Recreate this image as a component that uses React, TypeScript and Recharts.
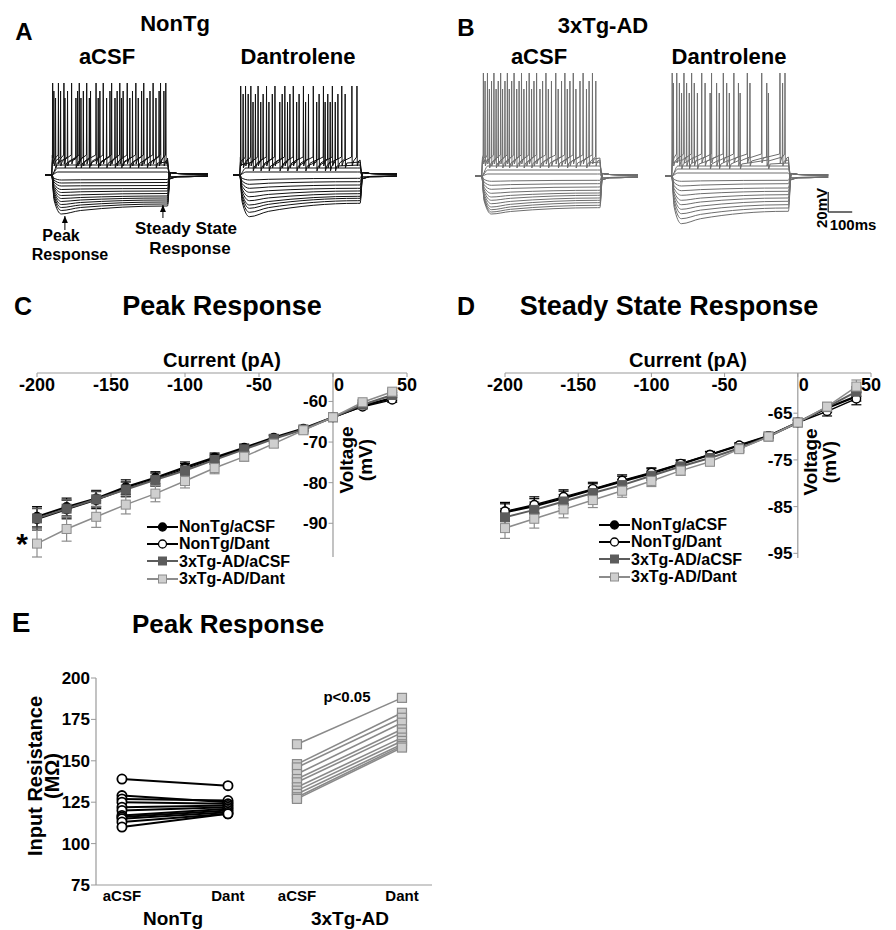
import React from 'react';
import {
  LineChart,
  ComposedChart,
  Line,
  XAxis,
  YAxis,
  ReferenceLine,
  ReferenceDot,
  ErrorBar,
  Legend,
} from 'recharts';

const FONT = '"Liberation Sans", Arial, Helvetica, sans-serif';

// ================= Panels A & B : membrane voltage traces (mV vs ms) =================
const REST_MV = -65;
// [stimulus onset, stimulus offset, end of sweep] in ms
const A_ACSF_TIMING = [28, 511, 680];
const A_DANT_TIMING = [28, 527, 680];
const B_ACSF_TIMING = [28, 521, 680];
const B_DANT_TIMING = [28, 514, 680];

// hyperpolarising sweeps: sag peak, value ~120 ms after onset, steady state at end of step
const A_ACSF_PEAK = [-70, -73, -76, -79.5, -82.5, -85.5, -88.5, -91.5, -94.5, -97.5, -100.5, -104];
const A_ACSF_MID = [-69.8, -72.8, -75.8, -79, -81.8, -84.8, -87.5, -90, -92.5, -95, -97.5, -100.5];
const A_ACSF_STEADY = [-69.5, -72.5, -75.5, -78.5, -81, -83.5, -86, -88, -90, -92, -94, -96];
const A_DANT_PEAK = [-70, -74.3, -78.3, -82.3, -86.7, -90.7, -95, -98.3, -102.3, -106.7];
const A_DANT_MID = [-69.3, -73.2, -77, -80.7, -84.4, -87.9, -91.5, -94.3, -97.6, -101.3];
const A_DANT_STEADY = [-68.3, -71.7, -75, -78.3, -81, -83.7, -86.3, -88.3, -90.7, -93.3];
const B_ACSF_PEAK = [-70.3, -74.3, -78.3, -82.3, -86, -89.3, -92.7, -96, -98.7, -101, -103];
const B_ACSF_MID = [-69.9, -73.6, -77.4, -81.1, -84.4, -87.3, -90.4, -93.3, -95.9, -98.3, -100.5];
const B_ACSF_STEADY = [-69.3, -72.7, -76, -79.3, -82, -84.3, -87, -89.3, -91.7, -94.3, -96.7];
const B_DANT_PEAK = [-70.3, -75, -79.7, -84.3, -89.3, -93.7, -98.3, -102.7, -107.7, -112.7];
const B_DANT_MID = [-69.9, -74.1, -78.6, -82.7, -87.1, -91, -95.1, -99.1, -103.4, -107.7];
const B_DANT_STEADY = [-69.3, -72.7, -77, -80.3, -83.7, -87, -90.3, -93.7, -97, -100.3];

// depolarising sweeps below threshold (mV)
const A_ACSF_SUB = [-62, -58, -55];
const A_DANT_SUB = [-62, -58];
const B_ACSF_SUB = [-63, -59, -55];
const B_DANT_SUB = [-62, -58, -55];

// spiking sweeps: spike times (ms), plateau level (mV), spike peak (mV)
const A_ACSF_SPIKES = [
  [32, 56, 79, 111, 143, 174, 213, 243, 278, 312, 343, 379, 412, 451, 482, 504],
  [37, 65, 94, 136, 160, 190, 229, 271, 301, 326, 365, 403, 438, 476, 496],
  [44, 83, 129, 150, 185, 222, 257, 292, 319, 354, 389, 426, 463],
];
const A_ACSF_PLATEAU = [-48, -50, -52];
const A_ACSF_SPIKE_PEAK = [27, 19, 12];
const A_DANT_SPIKES = [
  [32, 52, 74, 104, 139, 174, 215, 250, 292, 333, 375, 412, 451, 493, 514],
  [42, 63, 93, 125, 163, 204, 236, 274, 313, 357, 393, 435, 465],
  [83, 115, 149, 194, 226, 264, 301, 347, 382, 403, 424],
];
const A_DANT_PLATEAU = [-50, -52, -55];
const A_DANT_SPIKE_PEAK = [24, 16, 8];
const B_ACSF_SPIKES = [
  [35, 52, 79, 107, 135, 163, 194, 226, 257, 296, 337, 375, 410, 451, 490],
  [42, 69, 97, 125, 153, 184, 215, 246, 282, 319, 361, 396, 438, 476, 504],
  [60, 88, 115, 143, 174, 204, 236, 271, 306, 347, 385, 421, 465],
];
const B_ACSF_PLATEAU = [-47, -49, -51];
const B_ACSF_SPIKE_PEAK = [38, 30, 22];
const B_DANT_SPIKES = [
  [30, 49, 79, 111, 153, 194, 243, 287, 343, 403, 479, 500],
  [35, 60, 90, 122, 167, 215, 257, 306, 354, 424, 490],
  [69, 101, 135, 188, 226, 268, 313, 431],
];
const B_DANT_PLATEAU = [-46, -49, -52];
const B_DANT_SPIKE_PEAK = [38, 28, 18];

// ================= Panels C & D : I-V relations =================
const CURRENTS_PA = [-200, -180, -160, -140, -120, -100, -80, -60, -40, -20, 0, 20, 40];
const IV_X_TICKS = [-200, -150, -100, -50, 0, 50];
const IV_NAMES = ['NonTg/aCSF', 'NonTg/Dant', '3xTg-AD/aCSF', '3xTg-AD/Dant'];

const C_NONTG_ACSF = [-88.4, -86.0, -83.9, -81.1, -78.8, -76.2, -73.8, -71.4, -68.9, -66.7, -63.9, -61.1, -59.2];
const C_NONTG_DANT = [-89.0, -86.6, -84.3, -81.6, -79.2, -76.6, -74.1, -71.6, -69.1, -66.8, -63.9, -61.3, -59.6];
const C_TG_ACSF = [-88.8, -86.4, -84.1, -81.7, -79.3, -77.0, -74.4, -71.8, -69.2, -66.9, -63.9, -60.8, -58.4];
const C_TG_DANT = [-95.0, -91.4, -88.4, -85.4, -82.7, -79.6, -76.4, -73.6, -70.4, -67.1, -63.9, -60.2, -57.6];
const C_NONTG_ACSF_SEM = [2.5, 2.2, 2.0, 1.8, 1.5, 1.3, 1.1, 0.9, 0.7, 0.5, 0.4, 0.5, 0.6];
const C_NONTG_DANT_SEM = [2.7, 2.3, 2.1, 1.8, 1.6, 1.3, 1.1, 0.9, 0.7, 0.5, 0.4, 0.5, 0.6];
const C_TG_ACSF_SEM = [2.4, 2.2, 2.0, 1.8, 1.6, 1.3, 1.1, 0.9, 0.7, 0.5, 0.4, 0.5, 0.6];
const C_TG_DANT_SEM = [3.3, 3.0, 2.6, 2.3, 2.0, 1.7, 1.4, 1.1, 0.9, 0.6, 0.5, 0.6, 0.7];
const C_Y_TICKS = [-60, -70, -80, -90];

const D_NONTG_ACSF = [-86.2, -84.9, -83.2, -81.4, -79.6, -77.9, -75.9, -73.9, -71.9, -69.9, -67.0, -63.9, -61.4];
const D_NONTG_DANT = [-86.0, -84.6, -82.9, -81.2, -79.4, -77.7, -75.8, -73.9, -71.9, -69.9, -67.0, -64.6, -61.9];
const D_TG_ACSF = [-87.3, -85.7, -83.9, -82.1, -80.4, -78.4, -76.4, -74.6, -72.5, -70.0, -67.0, -63.7, -60.4];
const D_TG_DANT = [-89.6, -87.6, -85.6, -83.6, -81.6, -79.5, -77.3, -75.4, -72.7, -70.0, -67.0, -63.6, -59.3];
const D_NONTG_ACSF_SEM = [1.8, 1.6, 1.5, 1.3, 1.1, 1.0, 0.8, 0.7, 0.5, 0.4, 0.5, 0.9, 1.0];
const D_NONTG_DANT_SEM = [1.9, 1.7, 1.5, 1.4, 1.2, 1.0, 0.8, 0.7, 0.5, 0.4, 0.5, 1.0, 1.3];
const D_TG_ACSF_SEM = [1.9, 1.7, 1.5, 1.3, 1.1, 1.0, 0.8, 0.7, 0.5, 0.4, 0.5, 0.9, 1.1];
const D_TG_DANT_SEM = [2.2, 2.0, 1.8, 1.6, 1.4, 1.2, 1.0, 0.8, 0.6, 0.4, 0.5, 0.9, 1.4];
const D_Y_TICKS = [-65, -75, -85, -95];

// ================= Panel E : input resistance (MΩ) =================
const E_CONDITIONS = ['aCSF', 'Dant'];
const E_GROUPS = ['NonTg', '3xTg-AD'];
const E_Y_TICKS = [75, 100, 125, 150, 175, 200];
const E_NONTG_ACSF = [139, 129, 127, 125, 122, 120, 117, 116, 115, 113, 110];
const E_NONTG_DANT = [135, 125, 126, 124, 123, 122, 121, 120, 119, 118, 118];
const E_TG_ACSF = [160, 148, 146, 142, 139, 137, 134, 132, 130, 128, 127];
const E_TG_DANT = [188, 179, 176, 173, 169, 167, 164, 162, 160, 159, 158];

// ---------------- styles ----------------
const IV_STYLE: Record<string, any> = {
  nA: { stroke: '#000', width: 2.2, shape: 'circle', fill: '#000', mstroke: '#000' },
  nD: { stroke: '#000', width: 1.4, shape: 'circle', fill: '#fff', mstroke: '#000' },
  tA: { stroke: '#5c5c5c', width: 2, shape: 'square', fill: '#5c5c5c', mstroke: '#5c5c5c' },
  tD: { stroke: '#8c8c8c', width: 1.5, shape: 'square', fill: '#cfcfcf', mstroke: '#8c8c8c' },
};
const IV_KEYS = ['nA', 'nD', 'tA', 'tD'];

// ---------------- trace builders (shape of each sweep from the read levels) ----------------
function hyperSweep(peak: number, mid: number, steady: number, timing: number[]) {
  const [on, off, end] = timing;
  return [
    { t: 0, v: REST_MV },
    { t: on, v: REST_MV },
    { t: on + 10, v: peak + (REST_MV - peak) * 0.35 },
    { t: on + 40, v: peak },
    { t: on + 120, v: mid },
    { t: off - 10, v: steady },
    { t: off, v: steady },
    { t: off + 12, v: REST_MV + 2.5 },
    { t: off + 40, v: REST_MV + 1.5 },
    { t: end, v: REST_MV + 1 },
  ];
}
function subSweep(level: number, timing: number[]) {
  const [on, off, end] = timing;
  return [
    { t: 0, v: REST_MV },
    { t: on, v: REST_MV },
    { t: on + 25, v: level },
    { t: off - 10, v: level },
    { t: off, v: level },
    { t: off + 12, v: REST_MV - 2 },
    { t: end, v: REST_MV - 1 },
  ];
}
function spikeSweep(times: number[], plateau: number, peak: number, timing: number[]) {
  const [on, off, end] = timing;
  const pts = [
    { t: 0, v: REST_MV },
    { t: on, v: REST_MV },
    { t: on + 3, v: plateau },
  ];
  times.forEach((ts) => {
    pts.push({ t: ts - 1.2, v: plateau + 3 });
    pts.push({ t: ts, v: peak });
    pts.push({ t: ts + 1.2, v: plateau - 6 });
    pts.push({ t: ts + 7, v: plateau - 1 });
  });
  pts.push({ t: off, v: plateau });
  pts.push({ t: off + 8, v: REST_MV - 4 });
  pts.push({ t: off + 40, v: REST_MV - 1.5 });
  pts.push({ t: end, v: REST_MV - 1 });
  return pts.sort((a, b) => a.t - b.t);
}
function buildSweeps(peak: number[], mid: number[], steady: number[], sub: number[], spikes: number[][], plateau: number[], spikePeak: number[], timing: number[]) {
  const out: { curve: any; points: { t: number; v: number }[] }[] = [];
  peak.forEach((p, i) => out.push({ curve: 'monotoneX', points: hyperSweep(p, mid[i], steady[i], timing) }));
  sub.forEach((l) => out.push({ curve: 'monotoneX', points: subSweep(l, timing) }));
  spikes.forEach((ts, i) => out.push({ curve: 'linear', points: spikeSweep(ts, plateau[i], spikePeak[i], timing) }));
  return out;
}

const Txt = ({ x, y, size, children, rotate, lh }: any) => (
  <div
    style={{
      position: 'absolute',
      left: x,
      top: y,
      transform: `translate(-50%,-50%)${rotate ? ` rotate(${rotate}deg)` : ''}`,
      fontSize: size,
      fontWeight: 'bold',
      fontFamily: FONT,
      lineHeight: lh ? `${lh}px` : 1,
      whiteSpace: 'nowrap',
      textAlign: 'center',
      color: '#000',
    }}
  >
    {children}
  </div>
);

// two-line caption whose lines are separate blocks
const Caption2 = ({ x, y, size, lh, first, second, dx1, dx2 }: any) => (
  <div
    style={{
      position: 'absolute',
      left: x,
      top: y,
      transform: 'translate(-50%,-50%)',
      fontSize: size,
      fontWeight: 'bold',
      fontFamily: FONT,
      whiteSpace: 'nowrap',
      textAlign: 'center',
      color: '#000',
    }}
  >
    <div style={{ height: lh, lineHeight: `${lh}px`, position: 'relative', left: dx1 }}>{first}</div>
    <div style={{ height: lh, lineHeight: `${lh}px`, position: 'relative', left: dx2 }}>{second}</div>
  </div>
);

const arrowHead = (props: any) => {
  const { cx, cy } = props;
  if (cx == null) return <g />;
  return <path d={`M${cx},${cy} L${cx - 3},${cy + 7} L${cx + 3},${cy + 7} Z`} fill="#000" />;
};

function TraceChart({ left, top, width, xMax, sweeps, color, children }: any) {
  return (
    <div style={{ position: 'absolute', left, top }}>
      <LineChart width={width} height={170} margin={{ top: 0, right: 0, bottom: 0, left: 0 }}>
        <XAxis type="number" dataKey="t" domain={[0, xMax]} hide allowDataOverflow />
        <YAxis type="number" domain={[-125, 45]} hide allowDataOverflow />
        {sweeps.map((s: any, i: number) => (
          <Line
            key={i}
            data={s.points}
            dataKey="v"
            type={s.curve}
            stroke={color}
            strokeWidth={1}
            dot={false}
            activeDot={false}
            isAnimationActive={false}
          />
        ))}
        {children}
      </LineChart>
    </div>
  );
}

// ---------------- I-V chart ----------------
const marker = (st: any, size: number) => (props: any) => {
  const { cx, cy, index } = props;
  if (cx == null || cy == null) return <g key={`m${index}`} />;
  if (st.shape === 'circle')
    return <circle key={`m${index}`} cx={cx} cy={cy} r={size / 2} fill={st.fill} stroke={st.mstroke} strokeWidth={1.4} />;
  return <rect key={`m${index}`} x={cx - size / 2} y={cy - size / 2} width={size} height={size} fill={st.fill} stroke={st.mstroke} strokeWidth={1} />;
};

const IVTick = (props: any) => {
  const { x, y, payload } = props;
  const dx = payload.value === 0 ? 6 : 0;
  return (
    <text x={x + dx} y={y} dy="0.78em" textAnchor="middle" fontSize={18} fontWeight="bold" fontFamily={FONT} fill="#000">
      {payload.value}
    </text>
  );
};

const IVLegend = (props: any) => {
  const payload = [...(props.payload || [])].sort(
    (a: any, b: any) => IV_KEYS.indexOf(a.dataKey) - IV_KEYS.indexOf(b.dataKey),
  );
  return (
    <div style={{ fontFamily: FONT, fontWeight: 'bold', fontSize: 16, color: '#000' }}>
      {payload.map((e: any) => {
        const st = IV_STYLE[e.dataKey];
        return (
          <div key={e.dataKey} style={{ display: 'flex', alignItems: 'center', height: 17.3, whiteSpace: 'nowrap' }}>
            <svg width={31} height={12} style={{ display: 'block' }}>
              <line x1={0} y1={6} x2={31} y2={6} stroke={st.stroke} strokeWidth={2} />
              {st.shape === 'circle' ? (
                <circle cx={15.5} cy={6} r={4} fill={st.fill} stroke={st.mstroke} strokeWidth={1.3} />
              ) : (
                <rect x={11.5} y={2} width={8} height={8} fill={st.fill} stroke={st.mstroke} />
              )}
            </svg>
            <span style={{ marginLeft: 1, lineHeight: '17px' }}>{e.value}</span>
          </div>
        );
      })}
    </div>
  );
};

function IVChart({ series, sems, yDomain, yTicks, left, top, width, height, margin, legendLeft, legendTop }: any) {
  const rows = CURRENTS_PA.map((c, i) => {
    const r: any = { current: c };
    IV_KEYS.forEach((k, j) => {
      r[k] = series[j][i];
      r[k + 'e'] = sems[j][i];
    });
    return r;
  });
  return (
    <div style={{ position: 'absolute', left, top }}>
      <ComposedChart width={width} height={height} data={rows} margin={margin}>
        <XAxis
          dataKey="current"
          type="number"
          domain={[-200, 50]}
          ticks={IV_X_TICKS}
          interval={0}
          orientation="top"
          mirror
          axisLine={{ stroke: '#9a9a9a', strokeWidth: 1.2 }}
          tickLine={{ stroke: '#9a9a9a' }}
          tickSize={4}
          tickMargin={0}
          tick={<IVTick />}
          label={{ value: 'Current (pA)', position: 'top', offset: 6, fontSize: 20, fontWeight: 'bold', fill: '#000', fontFamily: FONT }}
        />
        <YAxis type="number" domain={yDomain} hide />
        <ReferenceLine x={0} stroke="#9a9a9a" strokeWidth={1.2} />
        {yTicks.map((v: number) => (
          <ReferenceLine
            key={v}
            segment={[{ x: -3, y: v }, { x: 0, y: v }]}
            stroke="#9a9a9a"
            label={{ value: String(v), position: 'left', offset: 1, fontSize: 17, fontWeight: 'bold', fill: '#000', fontFamily: FONT }}
          />
        ))}
        {IV_KEYS.map((k, j) => {
          const st = IV_STYLE[k];
          return (
            <Line
              key={k}
              dataKey={k}
              name={IV_NAMES[j]}
              type="linear"
              stroke={st.stroke}
              strokeWidth={st.width}
              dot={marker(st, st.shape === 'circle' ? 8.5 : 9)}
              activeDot={false}
              isAnimationActive={false}
            >
              <ErrorBar dataKey={k + 'e'} direction="y" width={5} stroke={st.stroke} strokeWidth={1.2} isAnimationActive={false} />
            </Line>
          );
        })}
        <Legend
          layout="vertical"
          align="center"
          verticalAlign="middle"
          content={<IVLegend />}
          wrapperStyle={{ left: legendLeft, top: legendTop, width: 150, height: 72 }}
        />
      </ComposedChart>
    </div>
  );
}

function PanelE() {
  const ntg = E_NONTG_ACSF.map((a, i) => [
    { c: 0, v: a },
    { c: 1, v: E_NONTG_DANT[i] },
  ]);
  const tg = E_TG_ACSF.map((a, i) => [
    { c: 0, v: a },
    { c: 1, v: E_TG_DANT[i] },
  ]);
  const tickStyle = { fontSize: 15, fontWeight: 'bold', fill: '#000', fontFamily: FONT };
  const circ = (props: any) => {
    const { cx, cy, index } = props;
    if (cx == null) return <g key={`c${index}`} />;
    return <circle key={`c${index}`} cx={cx} cy={cy} r={4.6} fill="#fff" stroke="#000" strokeWidth={1.8} />;
  };
  const sq = (props: any) => {
    const { cx, cy, index } = props;
    if (cx == null) return <g key={`s${index}`} />;
    return <rect key={`s${index}`} x={cx - 4.5} y={cy - 4.5} width={9} height={9} fill="#cdcdcd" stroke="#8a8a8a" strokeWidth={1.2} />;
  };
  return (
    <div style={{ position: 'absolute', left: 0, top: 650 }}>
      <LineChart width={450} height={280} margin={{ top: 28, right: 18, bottom: 43, left: 36 }}>
        <XAxis
          xAxisId="ntg"
          dataKey="c"
          type="number"
          domain={[-0.245, 2.925]}
          ticks={[0, 1]}
          interval={0}
          tickFormatter={(v: number) => E_CONDITIONS[v]}
          height={1}
          axisLine={{ stroke: '#9a9a9a', strokeWidth: 1.2 }}
          tickLine={false}
          tickSize={0}
          tickMargin={5}
          tick={tickStyle}
        />
        <XAxis
          xAxisId="tg"
          dataKey="c"
          type="number"
          domain={[-1.914, 1.286]}
          ticks={[0, 1]}
          interval={0}
          tickFormatter={(v: number) => E_CONDITIONS[v]}
          height={1}
          axisLine={false}
          tickLine={false}
          tickSize={0}
          tickMargin={4}
          tick={tickStyle}
        />
        <YAxis
          type="number"
          domain={[75, 200]}
          ticks={E_Y_TICKS}
          interval={0}
          width={60}
          axisLine={{ stroke: '#9a9a9a', strokeWidth: 1.2 }}
          tickLine={{ stroke: '#9a9a9a' }}
          tickSize={5}
          tickMargin={1}
          tick={{ fontSize: 17, fontWeight: 'bold', fill: '#000', fontFamily: FONT }}
        />
        {ntg.map((d, i) => (
          <Line key={'n' + i} xAxisId="ntg" data={d} dataKey="v" type="linear" stroke="#000" strokeWidth={2} dot={circ} activeDot={false} isAnimationActive={false} />
        ))}
        {tg.map((d, i) => (
          <Line key={'t' + i} xAxisId="tg" data={d} dataKey="v" type="linear" stroke="#8a8a8a" strokeWidth={1.6} dot={sq} activeDot={false} isAnimationActive={false} />
        ))}
      </LineChart>
    </div>
  );
}

export default function App() {
  const aAcsf = buildSweeps(A_ACSF_PEAK, A_ACSF_MID, A_ACSF_STEADY, A_ACSF_SUB, A_ACSF_SPIKES, A_ACSF_PLATEAU, A_ACSF_SPIKE_PEAK, A_ACSF_TIMING);
  const aDant = buildSweeps(A_DANT_PEAK, A_DANT_MID, A_DANT_STEADY, A_DANT_SUB, A_DANT_SPIKES, A_DANT_PLATEAU, A_DANT_SPIKE_PEAK, A_DANT_TIMING);
  const bAcsf = buildSweeps(B_ACSF_PEAK, B_ACSF_MID, B_ACSF_STEADY, B_ACSF_SUB, B_ACSF_SPIKES, B_ACSF_PLATEAU, B_ACSF_SPIKE_PEAK, B_ACSF_TIMING);
  const bDant = buildSweeps(B_DANT_PEAK, B_DANT_MID, B_DANT_STEADY, B_DANT_SUB, B_DANT_SPIKES, B_DANT_PLATEAU, B_DANT_SPIKE_PEAK, B_DANT_TIMING);

  return (
    <div style={{ position: 'absolute', left: 0, top: 0, width: 896, height: 930, background: '#fff', overflow: 'hidden' }}>
      {/* Panel A */}
      <Txt x={24} y={32} size={24}>A</Txt>
      <Txt x={175} y={24} size={22}>NonTg</Txt>
      <Txt x={107} y={57} size={22}>aCSF</Txt>
      <Txt x={298} y={57} size={22}>Dantrolene</Txt>
      <TraceChart left={45} top={65} width={163} xMax={680} sweeps={aAcsf} color="#111">
        <ReferenceLine segment={[{ x: 83, y: -120 }, { x: 83, y: -106 }]} stroke="#000" strokeWidth={1} />
        <ReferenceDot x={83} y={-106} shape={arrowHead} />
        <ReferenceLine segment={[{ x: 492, y: -108 }, { x: 492, y: -95 }]} stroke="#000" strokeWidth={1} />
        <ReferenceDot x={492} y={-95} shape={arrowHead} />
      </TraceChart>
      <TraceChart left={233} top={65} width={164} xMax={680} sweeps={aDant} color="#111" />
      <Caption2 x={66} y={245} size={16} lh={18.5} first="Peak" second="Response" dx1={-5} dx2={4} />
      <Caption2 x={188} y={238} size={17} lh={19.5} first="Steady State" second="Response" dx1={-2} dx2={2} />

      {/* Panel B */}
      <Txt x={466} y={28} size={24}>B</Txt>
      <Txt x={603} y={26} size={22}>3xTg-AD</Txt>
      <Txt x={539} y={57} size={22}>aCSF</Txt>
      <Txt x={729} y={57} size={22}>Dantrolene</Txt>
      <TraceChart left={475} top={66} width={163} xMax={680} sweeps={bAcsf} color="#6e6e6e" />
      <TraceChart left={665} top={66} width={192} xMax={800} sweeps={bDant} color="#6e6e6e">
        <ReferenceLine segment={[{ x: 680, y: -101 }, { x: 680, y: -81 }]} stroke="#222" strokeWidth={1.3} />
        <ReferenceLine segment={[{ x: 680, y: -101 }, { x: 780, y: -101 }]} stroke="#222" strokeWidth={1.3} />
      </TraceChart>
      <Txt x={821} y={208} size={15} rotate={-90}>20mV</Txt>
      <Txt x={853} y={224} size={15}>100ms</Txt>

      {/* Panel C */}
      <Txt x={23} y={306} size={25}>C</Txt>
      <Txt x={222} y={306} size={27}>Peak Response</Txt>
      <IVChart
        series={[C_NONTG_ACSF, C_NONTG_DANT, C_TG_ACSF, C_TG_DANT]}
        sems={[C_NONTG_ACSF_SEM, C_NONTG_DANT_SEM, C_TG_ACSF_SEM, C_TG_DANT_SEM]}
        yDomain={[-97.8, -53]}
        yTicks={C_Y_TICKS}
        left={0}
        top={340}
        width={440}
        height={240}
        margin={{ top: 33, right: 33, bottom: 23, left: 37 }}
        legendLeft={147}
        legendTop={178}
      />
      <Txt x={356} y={460} size={19} rotate={-90} lh={19}>
        Voltage
        <br />
        (mV)
      </Txt>
      <Txt x={22} y={544} size={30}>*</Txt>

      {/* Panel D */}
      <Txt x={466} y={306} size={25}>D</Txt>
      <Txt x={669} y={306} size={27}>Steady State Response</Txt>
      <IVChart
        series={[D_NONTG_ACSF, D_NONTG_DANT, D_TG_ACSF, D_TG_DANT]}
        sems={[D_NONTG_ACSF_SEM, D_NONTG_DANT_SEM, D_TG_ACSF_SEM, D_TG_DANT_SEM]}
        yDomain={[-96, -56.4]}
        yTicks={D_Y_TICKS}
        left={460}
        top={340}
        width={436}
        height={240}
        margin={{ top: 33, right: 25, bottom: 22, left: 45 }}
        legendLeft={139}
        legendTop={176}
      />
      <Txt x={820} y={462} size={19} rotate={-90} lh={19}>
        Voltage
        <br />
        (mV)
      </Txt>

      {/* Panel E */}
      <Txt x={21} y={623} size={28}>E</Txt>
      <Txt x={228} y={624} size={26}>Peak Response</Txt>
      <PanelE />
      <Txt x={347} y={696} size={15}>p&lt;0.05</Txt>
      <Txt x={44} y={776} size={20} rotate={-90} lh={17}>
        Input Resistance
        <br />
        (MΩ)
      </Txt>
      <Txt x={173} y={918} size={19}>{E_GROUPS[0]}</Txt>
      <Txt x={350} y={918} size={19}>{E_GROUPS[1]}</Txt>
    </div>
  );
}
